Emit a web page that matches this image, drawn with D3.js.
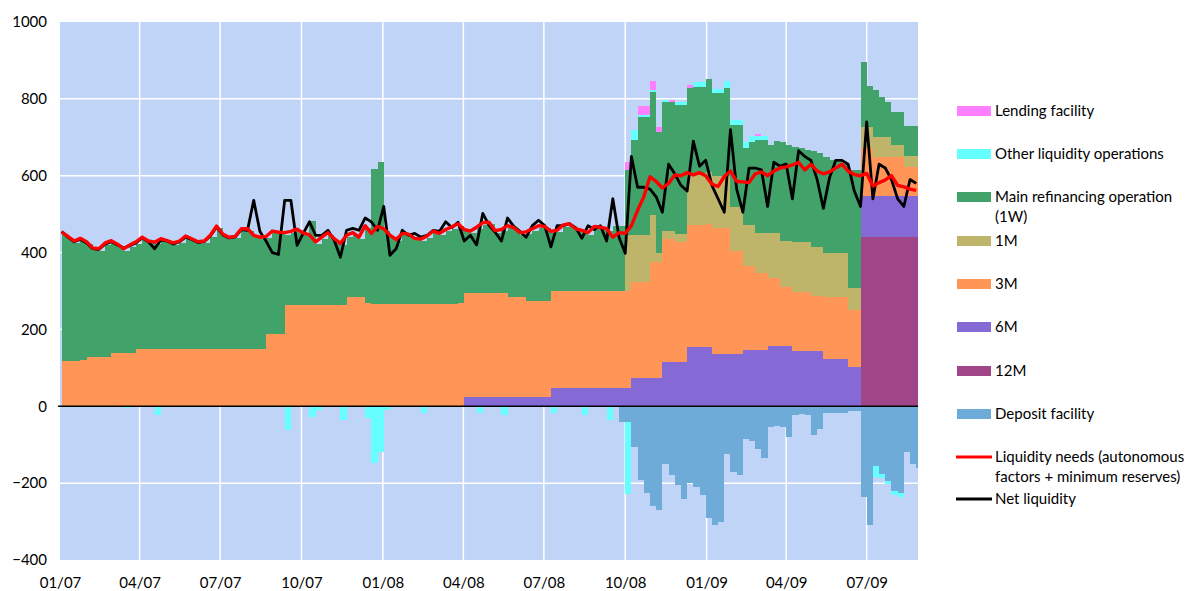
<!DOCTYPE html>
<html>
<head>
<meta charset="utf-8">
<script src="https://cdn.jsdelivr.net/npm/d3@7"></script>
<style>
  body { margin: 0; background: #fff; }
  svg { display: block; font-family: Lato, "Open Sans", sans-serif; }
</style>
</head>
<body>
<svg id="chart" width="1192" height="591"></svg>
<script>
// weekly values (EUR bn), one per Wednesday from 3 Jan 2007 to 26 Aug 2009
var firstWeek = new Date(2007, 0, 3);
var lastDay = new Date(2009, 7, 28);

var ltro12m = [
  0,0,0,0,0,0,0,0,0,0, 0,0,0,0,0,0,0,0,0,0,
  0,0,0,0,0,0,0,0,0,0, 0,0,0,0,0,0,0,0,0,0,
  0,0,0,0,0,0,0,0,0,0, 0,0,0,0,0,0,0,0,0,0,
  0,0,0,0,0,0,0,0,0,0, 0,0,0,0,0,0,0,0,0,0,
  0,0,0,0,0,0,0,0,0,0, 0,0,0,0,0,0,0,0,0,0,
  0,0,0,0,0,0,0,0,0,0, 0,0,0,0,0,0,0,0,0,0,
  0,0,0,0,0,0,0,0,0,440, 440,440,440,440,440,440,440,440,440
];
var ltro6m = [
  0,0,0,0,0,0,0,0,0,0, 0,0,0,0,0,0,0,0,0,0,
  0,0,0,0,0,0,0,0,0,0, 0,0,0,0,0,0,0,0,0,0,
  0,0,0,0,0,0,0,0,0,0, 0,0,0,0,0,0,0,0,0,0,
  0,0,0,0,0,23,23,23,23,23, 23,23,23,23,23,23,23,23,23,47,
  47,47,47,47,47,47,47,47,47,47, 47,47,73,73,73,73,73,115,115,115,
  115,154,154,154,154,135,135,135,135,135, 146,146,146,146,156,156,156,156,143,143,
  143,143,143,122,122,122,122,102,102,107, 107,107,107,107,107,107,107,107,107
];
var ltro3m = [
  117,117,117,120,128,128,128,128,138,138, 138,138,148,148,148,148,148,148,148,148,
  148,148,148,148,148,148,148,148,148,148, 148,148,148,188,188,188,263,263,263,263,
  263,263,263,263,263,263,284,284,284,268, 266,266,266,266,266,266,266,266,266,266,
  266,266,266,266,268,271,271,271,271,271, 271,271,261,261,261,250,250,250,250,252,
  252,252,252,252,252,252,252,252,252,252, 252,252,250,250,250,302,302,320,320,312,
  312,317,317,317,320,329,329,329,269,269, 219,219,200,200,179,179,154,154,154,154,
  154,143,143,162,162,162,162,148,148,125, 125,103,103,103,103,103,75,75,75
];
var ltro1m = [
  0,0,0,0,0,0,0,0,0,0, 0,0,0,0,0,0,0,0,0,0,
  0,0,0,0,0,0,0,0,0,0, 0,0,0,0,0,0,0,0,0,0,
  0,0,0,0,0,0,0,0,0,0, 0,0,0,0,0,0,0,0,0,0,
  0,0,0,0,0,0,0,0,0,0, 0,0,0,0,0,0,0,0,0,0,
  0,0,0,0,0,0,0,0,0,0, 0,146,122,122,122,122,23,21,21,21,
  21,135,135,135,135,135,135,135,114,114, 106,106,105,105,115,115,120,120,130,130,
  130,128,128,114,114,114,114,57,57,55, 55,51,51,51,30,30,29,29,29
];
var mro = [
  331,320,308,312,295,279,277,292,288,279, 267,277,275,287,277,274,283,278,272,277,
  290,283,275,277,292,316,295,287,289,309, 309,292,287,249,263,260,184,187,193,183,
  219,160,172,184,168,156,156,163,151,197, 351,369,191,174,163,179,177,166,164,172,
  185,179,189,196,202,161,157,167,179,180, 158,161,181,176,163,176,184,192,190,151,
  154,168,171,158,154,148,164,162,158,171, 171,169,248,308,308,321,316,336,336,336,
  336,221,224,224,242,216,216,229,214,214, 201,217,242,242,230,240,258,250,248,245,
  241,251,246,250,242,237,232,308,308,169, 106,122,104,91,86,86,78,78,78
];
var otherOps = [
  0,0,0,0,0,0,0,0,0,0, -4,0,0,0,0,-23,0,0,0,0,
  0,0,0,0,0,0,0,0,0,0, 0,0,0,0,0,0,-63,0,0,0,
  -28,-10,0,0,0,-36,0,0,0,-31, -148,-118,-10,0,0,0,0,0,-18,0,
  0,0,0,0,0,0,0,-18,0,0, 0,-23,0,0,0,0,0,0,0,-18,
  0,0,0,0,-23,0,0,0,-36,0, 0,-186,26,5,5,5,0,5,0,8,
  8,0,13,13,0,10,10,18,13,13, 15,15,10,10,0,0,0,0,0,0,
  0,0,0,0,0,0,0,0,0,0, 0,-30,-12,-8,-10,-10,0,0,0
];
var lending = [
  0,0,0,0,0,0,0,0,0,0, 0,0,0,0,0,0,0,0,0,0,
  0,0,0,0,0,0,0,0,0,0, 0,0,0,0,0,0,0,0,0,0,
  0,0,0,0,0,0,0,0,0,0, 0,0,0,0,0,0,0,0,0,0,
  0,0,0,0,0,0,0,0,0,0, 0,0,0,0,0,0,0,0,0,0,
  0,0,0,0,0,0,0,0,0,0, 0,21,0,23,23,23,13,0,5,0,
  0,10,0,0,0,0,0,0,0,0, 0,0,5,0,0,0,0,0,0,0,
  0,0,0,0,0,0,0,0,0,0, 0,0,0,0,0,0,0,0,0
];
var deposit = [
  0,0,0,0,0,0,0,0,0,0, 0,0,0,0,0,0,0,0,0,0,
  0,0,0,0,0,0,0,0,0,0, 0,0,0,0,0,0,0,0,0,0,
  0,0,0,0,0,0,0,0,0,0, 0,0,0,0,0,0,0,0,0,0,
  0,0,0,0,0,0,0,0,0,0, 0,0,0,0,0,0,0,0,0,0,
  0,0,0,0,0,0,0,0,0,0, -42,-41,-106,-193,-225,-260,-270,-150,-180,-205,
  -240,-200,-210,-230,-290,-310,-300,-125,-170,-180, -85,-90,-110,-135,-55,-50,-55,-80,-22,-20,
  -22,-75,-60,-17,-17,-17,-17,-13,-13,-237, -310,-155,-175,-195,-220,-225,-120,-150,-160
];
var liquidityNeeds = [
  453,442,430,437,428,412,410,425,431,422, 410,420,428,440,430,427,436,431,425,430,
  443,436,428,430,445,469,448,440,442,462, 462,445,440,442,456,453,452,455,461,451,
  446,428,440,452,436,424,445,452,440,470, 450,468,462,445,434,450,448,437,435,443,
  456,450,460,467,475,460,456,466,478,479, 457,460,470,465,452,454,462,470,468,455,
  458,472,475,462,458,452,468,466,462,440, 452,450,470,510,545,597,585,568,580,602,
  600,608,602,608,600,578,572,598,612,585, 584,582,605,610,600,612,620,623,628,635,
  615,630,612,605,610,620,630,612,603,600, 606,573,582,589,600,575,571,565,562
];
var netLiquidity = [
  455,440,428,434,425,410,408,422,428,420, 412,418,425,438,428,410,433,430,422,428,
  440,434,426,428,443,466,446,438,440,460, 458,536,455,430,400,395,536,536,419,450,
  480,445,445,458,432,388,458,463,458,490, 480,458,520,393,410,458,445,450,440,445,
  458,455,480,465,479,430,445,420,502,471, 453,430,490,468,455,440,470,484,470,415,
  470,470,475,465,437,470,460,470,430,540, 440,398,650,570,570,565,545,505,630,605,
  575,560,690,625,640,575,540,505,720,565, 505,620,620,615,520,635,625,630,540,665,
  650,640,590,515,595,640,640,630,560,520, 740,540,630,620,590,540,520,590,580
];

var yTicks = [-400, -200, 0, 200, 400, 600, 800, 1000];
var legendItems = [
  { key: "lending", label: ["Lending facility"] },
  { key: "otherOps", label: ["Other liquidity operations"] },
  { key: "mro", label: ["Main refinancing operation", "(1W)"] },
  { key: "ltro1m", label: ["1M"] },
  { key: "ltro3m", label: ["3M"] },
  { key: "ltro6m", label: ["6M"] },
  { key: "ltro12m", label: ["12M"] },
  { key: "deposit", label: ["Deposit facility"] }
];

var colors = {
  ltro12m: "#a14589",
  ltro6m: "#856ad6",
  ltro3m: "#ff9657",
  ltro1m: "#beb46a",
  mro: "#42a36a",
  deposit: "#6eabd8",
  otherOps: "#66ffff",
  lending: "#ff80ff"
};

var svg = d3.select("#chart");
var plot = { left: 60, right: 918, top: 22, bottom: 560 };

var weeks = d3.timeWednesday.range(firstWeek, new Date(2009, 7, 27));

var x = d3.scaleTime()
  .domain([new Date(2007, 0, 1), lastDay])
  .range([plot.left, plot.right]);
var y = d3.scaleLinear()
  .domain([-400, 1000])
  .range([plot.bottom, plot.top]);

// table for the stack
var table = weeks.map(function(d, i) {
  return {
    date: d,
    ltro12m: ltro12m[i], ltro6m: ltro6m[i], ltro3m: ltro3m[i], ltro1m: ltro1m[i],
    mro: mro[i], deposit: deposit[i], otherOps: otherOps[i], lending: lending[i]
  };
});
// last week runs to the end of the axis
table.push(Object.assign({}, table[table.length - 1], { date: lastDay }));

var keys = ["ltro12m", "ltro6m", "ltro3m", "ltro1m", "mro", "deposit", "otherOps", "lending"];
var layers = d3.stack().keys(keys).offset(d3.stackOffsetDiverging)(table);

// background
svg.append("rect")
  .attr("x", plot.left).attr("y", plot.top)
  .attr("width", plot.right - plot.left).attr("height", plot.bottom - plot.top)
  .attr("fill", "#c0d4f8");

// grid
var quarters = d3.timeMonth.every(3).range(new Date(2007, 0, 1), new Date(2009, 7, 2));
svg.append("g").selectAll("line")
  .data(quarters.slice(1))
  .enter().append("line")
  .attr("x1", function(d) { return x(d); }).attr("x2", function(d) { return x(d); })
  .attr("y1", plot.top).attr("y2", plot.bottom)
  .attr("stroke", "#fff").attr("stroke-width", 1.5);
svg.append("g").selectAll("line")
  .data(yTicks.filter(function(v) { return v > -400 && v < 1000 && v != 0; }))
  .enter().append("line")
  .attr("x1", plot.left).attr("x2", plot.right)
  .attr("y1", function(d) { return y(d); }).attr("y2", function(d) { return y(d); })
  .attr("stroke", "#fff").attr("stroke-width", 1.5);

// stacked areas
var area = d3.area()
  .curve(d3.curveStepAfter)
  .x(function(d) { return x(d.data.date); })
  .y0(function(d) { return y(d[0]); })
  .y1(function(d) { return y(d[1]); });

svg.append("g").selectAll("path")
  .data(layers)
  .enter().append("path")
  .attr("d", area)
  .attr("fill", function(d) { return colors[d.key]; })
  .attr("shape-rendering", "crispEdges");

// zero line
svg.append("line")
  .attr("x1", plot.left - 2).attr("x2", plot.right)
  .attr("y1", y(0)).attr("y2", y(0))
  .attr("stroke", "#000").attr("stroke-width", 1.5);

// lines
var line = d3.line()
  .x(function(d, i) { return x(weeks[i]); })
  .y(function(d) { return y(d); });

svg.append("path")
  .datum(netLiquidity)
  .attr("d", line)
  .attr("fill", "none").attr("stroke", "#000").attr("stroke-width", 2.8)
  .attr("stroke-linejoin", "round");
svg.append("path")
  .datum(liquidityNeeds)
  .attr("d", line)
  .attr("fill", "none").attr("stroke", "#ff0000").attr("stroke-width", 3.4)
  .attr("stroke-linejoin", "round");

// axes
var yAxis = svg.append("g")
  .attr("transform", "translate(" + plot.left + ",0)")
  .call(d3.axisLeft(y).tickValues(yTicks).tickSize(0).tickPadding(13)
    .tickFormat(d3.format("d")));
var xAxis = svg.append("g")
  .attr("transform", "translate(0," + plot.bottom + ")")
  .call(d3.axisBottom(x).tickValues(quarters).tickSize(0).tickPadding(17)
    .tickFormat(d3.timeFormat("%m/%y")));
[yAxis, xAxis].forEach(function(a) {
  a.select(".domain").remove();
  a.selectAll("text").style("font-size", "15px").attr("fill", "#000")
    .style("font-family", "Lato, 'Open Sans', sans-serif");
});

// legend
var legendY = [111, 154, 197, 241, 284, 327, 371, 414];
var legend = svg.append("g").style("font-size", "15px");
legendItems.forEach(function(item, i) {
  legend.append("rect")
    .attr("x", 957).attr("y", legendY[i] - 5)
    .attr("width", 34).attr("height", 10)
    .attr("fill", colors[item.key]);
  item.label.forEach(function(t, j) {
    legend.append("text")
      .attr("x", 995).attr("y", legendY[i] + 5 + j * 20)
      .text(t);
  });
});
legend.append("line")
  .attr("x1", 956).attr("x2", 992).attr("y1", 457).attr("y2", 457)
  .attr("stroke", "#ff0000").attr("stroke-width", 3);
legend.append("text").attr("x", 995).attr("y", 462).text("Liquidity needs (autonomous");
legend.append("text").attr("x", 995).attr("y", 482).text("factors + minimum reserves)");
legend.append("line")
  .attr("x1", 956).attr("x2", 992).attr("y1", 499).attr("y2", 499)
  .attr("stroke", "#000").attr("stroke-width", 3);
legend.append("text").attr("x", 995).attr("y", 504).text("Net liquidity");
</script>
</body>
</html>
